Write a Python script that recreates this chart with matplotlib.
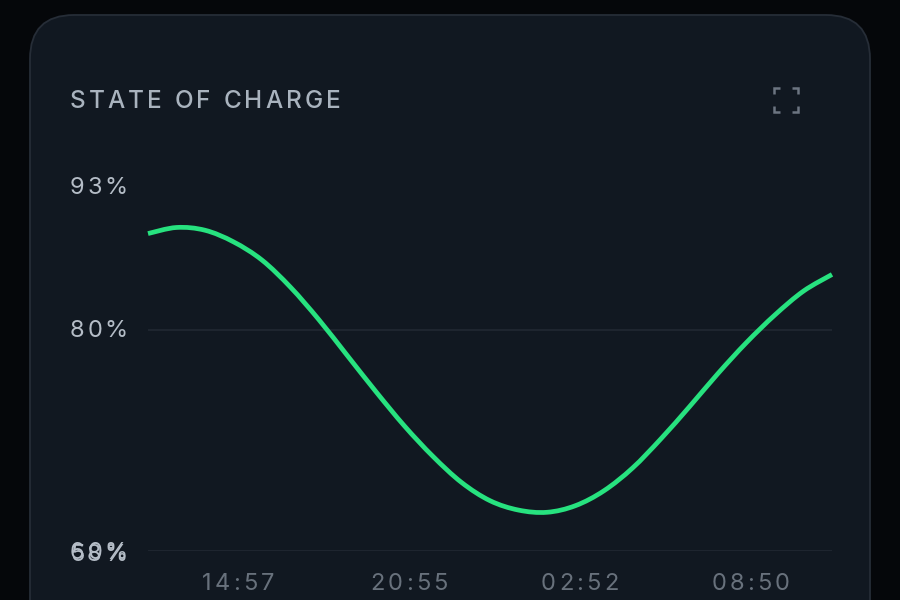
import matplotlib
matplotlib.use("Agg")
import matplotlib.pyplot as plt
import matplotlib.dates as mdates
from matplotlib.patches import FancyBboxPatch, PathPatch
from matplotlib.path import Path
from matplotlib.lines import Line2D
from matplotlib.transforms import IdentityTransform
import pandas as pd

# state of charge readings, evenly spaced between start and end
start = "2024-05-01 11:58"
end = "2024-05-02 11:50"
soc = [88.7, 89.25, 89.0, 87.95, 86.3, 83.85, 80.9, 77.65, 74.4, 71.3, 68.55,
       66.2, 64.55, 63.7, 63.5, 64.1, 65.45, 67.5, 70.15, 73.05, 76.05,
       78.85, 81.35, 83.5, 85.0]
times = pd.date_range(start, end, periods=len(soc))

tick_times = pd.to_datetime(["2024-05-01 14:57", "2024-05-01 20:55",
                             "2024-05-02 02:52", "2024-05-02 08:50"])
y_ticks = [93, 80, 60]
grid_levels = [80, 60]
extra_label = "58%"
title = "STATE OF CHARGE"

FONT = ["Inter", "DejaVu Sans"]
BG = "#05070a"
CARD = "#111821"
W, H = 900, 600

fig = plt.figure(figsize=(9, 6), dpi=100)
fig.patch.set_facecolor(BG)

card = FancyBboxPatch((30, -60), 840, 645, boxstyle="round,pad=0,rounding_size=44",
                      transform=IdentityTransform(), facecolor=CARD,
                      edgecolor="#262d37", linewidth=1.3, zorder=-5)
fig.add_artist(card)

ax = fig.add_axes([148 / W, 49 / H, 684 / W, 365 / H])
ax.set_zorder(2)
ax.patch.set_visible(False)
for s in ax.spines.values():
    s.set_visible(False)
ax.set_xticks([])
ax.set_yticks([])
ax.set_ylim(60, 93)
ax.set_xlim(times[0], times[-1])

for lv in grid_levels:
    ax.axhline(lv, color="#232a34", lw=1.1, zorder=1)

# smooth curve through the readings (catmull-rom as cubic bezier)
xs = mdates.date2num(times)
ys = soc
n = len(xs)
verts = [(xs[0], ys[0])]
codes = [Path.MOVETO]
for i in range(n - 1):
    x0_, y0_ = xs[max(i - 1, 0)], ys[max(i - 1, 0)]
    x1_, y1_ = xs[i], ys[i]
    x2_, y2_ = xs[i + 1], ys[i + 1]
    x3_, y3_ = xs[min(i + 2, n - 1)], ys[min(i + 2, n - 1)]
    verts += [(x1_ + (x2_ - x0_) / 6, y1_ + (y2_ - y0_) / 6),
              (x2_ - (x3_ - x1_) / 6, y2_ - (y3_ - y1_) / 6),
              (x2_, y2_)]
    codes += [Path.CURVE4] * 3
ax.add_patch(PathPatch(Path(verts, codes), facecolor="none", edgecolor="#27e27f",
                       lw=3.4, capstyle="butt", joinstyle="round", clip_on=False,
                       zorder=3))

renderer = fig.canvas.get_renderer()


def text_width(txt, size, weight):
    t = fig.text(0, 0, txt, fontsize=size, family=FONT, weight=weight)
    w = t.get_window_extent(renderer).width
    t.remove()
    return w


def spaced_text(x, y, s, size, color, track, ha="left", weight="normal"):
    # draw a string letter by letter in pixel coords, adding letter spacing
    bar = text_width("|", size, weight)
    offs = [0.0]
    for i in range(1, len(s)):
        offs.append(text_width(s[:i] + "|", size, weight) - bar + track * i)
    total = offs[-1] + text_width(s[-1], size, weight)
    if ha == "center":
        x -= total / 2
    for ch, o in zip(s, offs):
        if ch == " ":
            continue
        fig.text(x + o, y, ch, transform=IdentityTransform(), fontsize=size,
                 family=FONT, weight=weight, color=color, va="center", ha="left",
                 zorder=5)


# title and expand icon
spaced_text(70, H - 102, title, 17.5, "#a9b3be", 3.1, weight="medium")

icon_col = "#6c7581"
x0, x1, y0, y1, arm = 774, 798, H - 112, H - 88, 6
for (cx, cy, dx, dy) in [(x0, y1, 1, -1), (x1, y1, -1, -1), (x0, y0, 1, 1), (x1, y0, -1, 1)]:
    fig.add_artist(Line2D([cx + dx * arm, cx, cx], [cy, cy, cy + dy * arm],
                          transform=IdentityTransform(), color=icon_col, lw=1.8,
                          solid_joinstyle="miter", solid_capstyle="butt"))

# y labels
for v in y_ticks:
    _, py = ax.transData.transform((xs[0], v))
    spaced_text(70, py - 1.5, f"{v}%", 17, "#b5bdc7", 2.6)
_, py = ax.transData.transform((xs[0], y_ticks[-1]))
spaced_text(70, py - 3.5, extra_label, 17, "#b5bdc7", 2.6)

# x labels
for t in tick_times:
    px, _ = ax.transData.transform((mdates.date2num(t), 60))
    spaced_text(px + 4.5, H - 584, t.strftime("%H:%M"), 17, "#68717c", 3.2, ha="center")

fig.savefig("out.png", dpi=100, facecolor=BG)
